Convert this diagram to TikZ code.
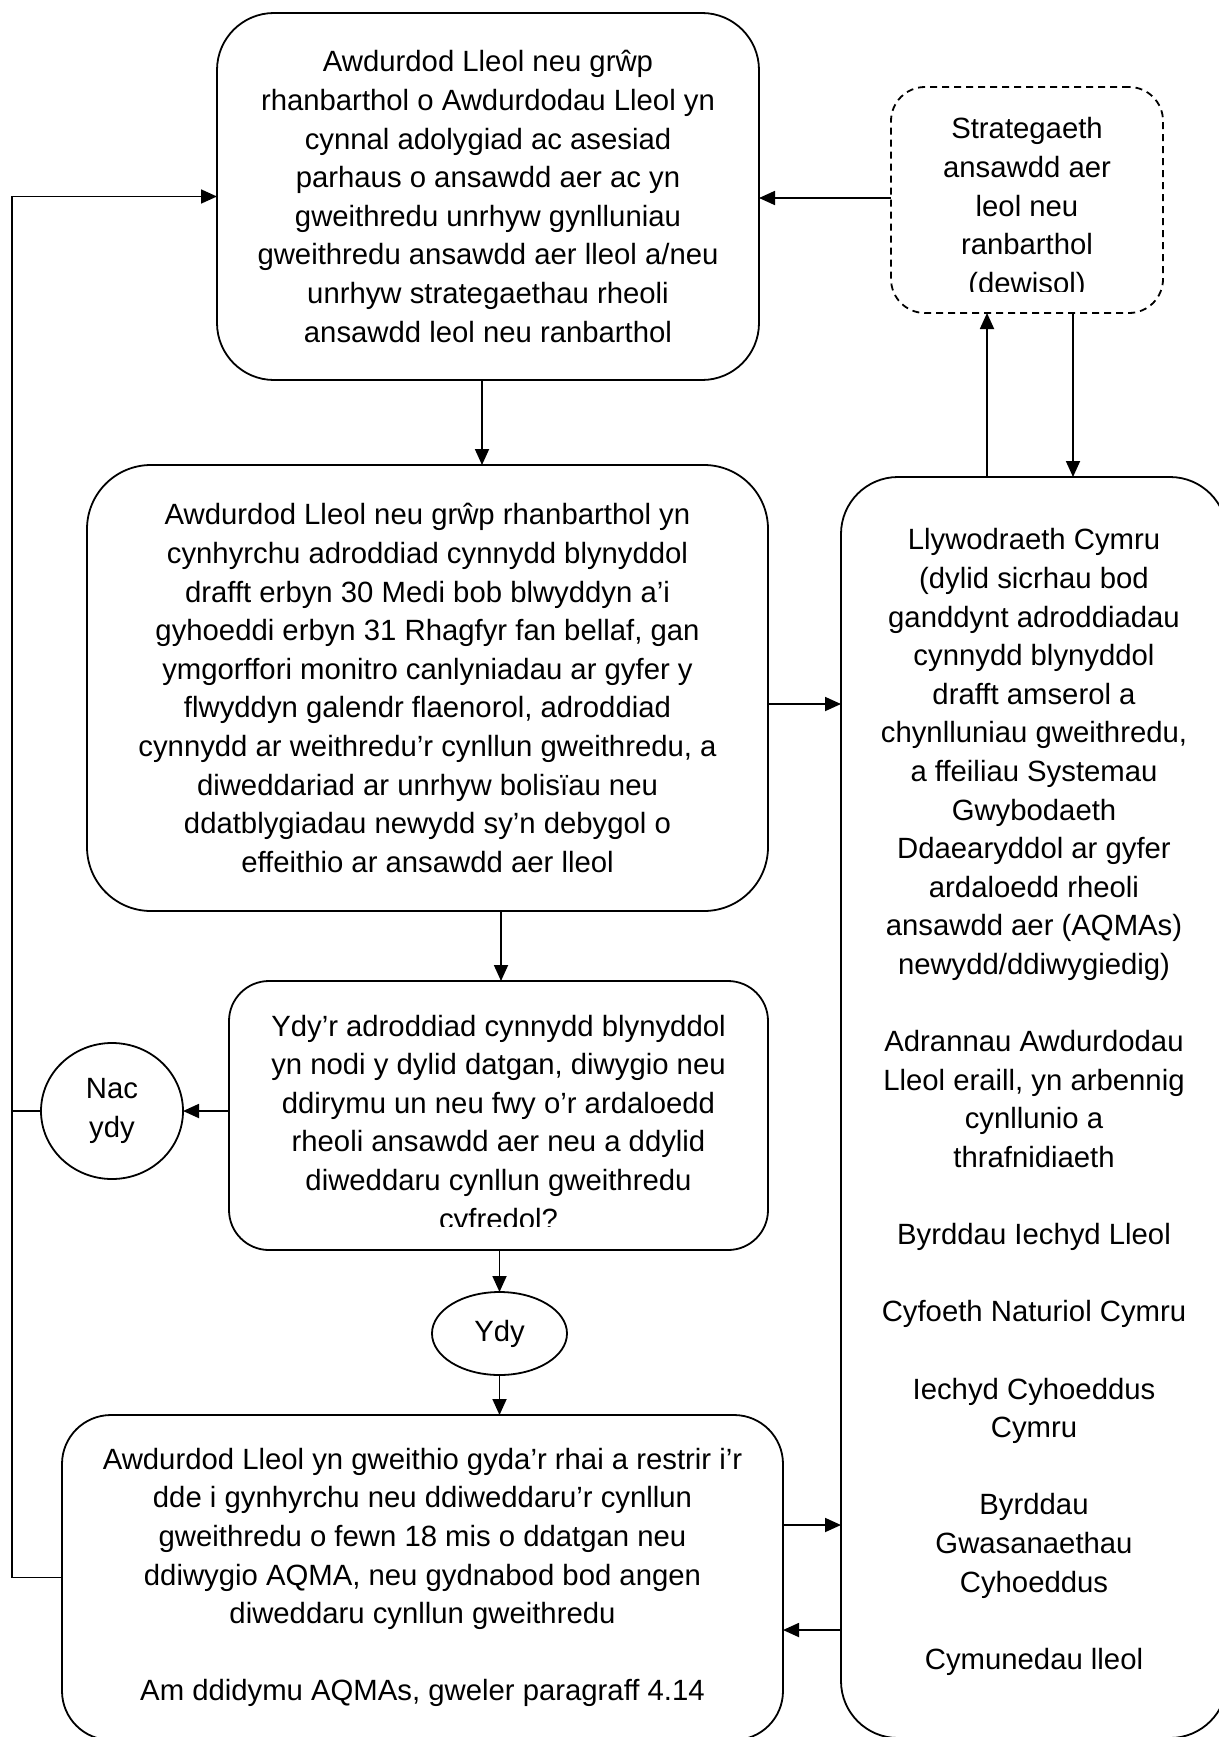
\documentclass[tikz,border=0pt]{standalone}
\usepackage{fontspec}
\setmainfont{Liberation Sans}
\usetikzlibrary{arrows.meta,shapes.geometric}
\begin{document}
\begin{tikzpicture}[x=1pt,y=-1pt,
  box/.style={draw=black,line width=1.8pt,rectangle,inner sep=0pt,outer sep=0pt,align=center,font={\fontsize{29.3}{38.6}\selectfont}},
  txt/.style={align=center,inner sep=0pt,outer sep=0pt,font={\fontsize{29.3}{38.6}\selectfont}},
  arr/.style={line width=1.8pt,-{Triangle[length=16pt,width=14pt]}},
  ln/.style={line width=1.8pt}]
\useasboundingbox (0,0) rectangle (1218,1737);

% boxes
\node[box,rounded corners=57pt,minimum width=542pt,minimum height=367pt] (b1) at (488,196.5)
 {Awdurdod Lleol neu grŵp\\rhanbarthol o Awdurdodau Lleol yn\\cynnal adolygiad ac asesiad\\parhaus o ansawdd aer ac yn\\gweithredu unrhyw gynlluniau\\gweithredu ansawdd aer lleol a/neu\\unrhyw strategaethau rheoli\\ansawdd leol neu ranbarthol};

\node[box,dashed,dash pattern=on 7pt off 5pt,rounded corners=34pt,minimum width=272pt,minimum height=226pt] (s) at (1027,200) {};
\begin{scope}
 \clip (891,87) rectangle (1163,291);
 \node[txt] (st) at (1027,208.5) {Strategaeth\\ansawdd aer\\leol neu\\ranbarthol\\(dewisol)};
\end{scope}

\node[box,rounded corners=64pt,minimum width=681pt,minimum height=446pt] (b2) at (427.5,688)
 {Awdurdod Lleol neu grŵp rhanbarthol yn\\cynhyrchu adroddiad cynnydd blynyddol\\drafft erbyn 30 Medi bob blwyddyn a’i\\gyhoeddi erbyn 31 Rhagfyr fan bellaf, gan\\ymgorffori monitro canlyniadau ar gyfer y\\flwyddyn galendr flaenorol, adroddiad\\cynnydd ar weithredu’r cynllun gweithredu, a\\diweddariad ar unrhyw bolisïau neu\\ddatblygiadau newydd sy’n debygol o\\effeithio ar ansawdd aer lleol};

\node[box,rounded corners=40pt,minimum width=539pt,minimum height=269pt] (b3) at (498.5,1115.5) {};
\begin{scope}
 \clip (229,981) rectangle (768,1226);
 \node[txt] (t3) at (498.5,1125) {Ydy’r adroddiad cynnydd blynyddol\\yn nodi y dylid datgan, diwygio neu\\ddirymu un neu fwy o’r ardaloedd\\rheoli ansawdd aer neu a ddylid\\diweddaru cynllun gweithredu\\cyfredol?};
\end{scope}

\node[box,ellipse,minimum width=142pt,minimum height=136pt] (nac) at (112,1111) {Nac\\ydy};
\node[box,ellipse,minimum width=135pt,minimum height=83pt] (ydy) at (499.5,1333.5) {Ydy};

\node[box,rounded corners=49pt,minimum width=721pt,minimum height=325pt] (b5) at (422.5,1577.5)
 {Awdurdod Lleol yn gweithio gyda’r rhai a restrir i’r\\dde i gynhyrchu neu ddiweddaru’r cynllun\\gweithredu o fewn 18 mis o ddatgan neu\\ddiwygio AQMA, neu gydnabod bod angen\\diweddaru cynllun gweithredu\\[38.6pt]Am ddidymu AQMAs, gweler paragraff 4.14};

\node[box,rounded corners=57pt,minimum width=386pt,minimum height=1261pt] (r) at (1034,1107.5) {};
\node[txt] (rt) at (1034,1102) {Llywodraeth Cymru\\(dylid sicrhau bod\\ganddynt adroddiadau\\cynnydd blynyddol\\drafft amserol a\\chynlluniau gweithredu,\\a ffeiliau Systemau\\Gwybodaeth\\Ddaearyddol ar gyfer\\ardaloedd rheoli\\ansawdd aer (AQMAs)\\newydd/ddiwygiedig)\\[38.6pt]Adrannau Awdurdodau\\Lleol eraill, yn arbennig\\cynllunio a\\thrafnidiaeth\\[38.6pt]Byrddau Iechyd Lleol\\[38.6pt]Cyfoeth Naturiol Cymru\\[38.6pt]Iechyd Cyhoeddus\\Cymru\\[38.6pt]Byrddau\\Gwasanaethau\\Cyhoeddus\\[38.6pt]Cymunedau lleol};

% connectors
\coordinate (L1) at (12,196.5);
\coordinate (L2) at (12,1577.5);
\draw[arr] (b5.west) -- (L2) -- (L1) -- (b1.west);
\draw[ln] (nac.west) -- (nac.west -| L1);
\draw[arr] (s.west |- 0,198) -- (b1.east |- 0,198);
\draw[arr] (b1.south -| 482,0) -- (b2.north -| 482,0);
\draw[arr] (b2.south -| 501,0) -- (b3.north -| 501,0);
\draw[arr] (b2.east |- 0,704) -- (r.west |- 0,704);
\draw[arr] (b3.west |- nac.east) -- (nac.east);
\draw[arr] (b3.south -| ydy.north) -- (ydy.north);
\draw[arr] (ydy.south) -- (ydy.south |- b5.north);
\draw[arr] (b5.east |- 0,1525) -- (r.west |- 0,1525);
\draw[arr] (r.west |- 0,1630) -- (b5.east |- 0,1630);
\draw[arr] (r.north -| 987,0) -- (s.south -| 987,0);
\draw[arr] (s.south -| 1073,0) -- (r.north -| 1073,0);
\end{tikzpicture}
\end{document}
